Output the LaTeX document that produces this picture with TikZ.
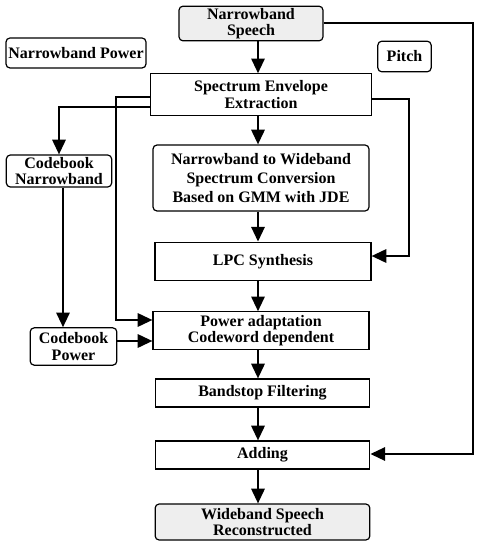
\documentclass[tikz,border=0pt]{standalone}
\usepackage{fontspec}
\setmainfont{Liberation Serif}
\usetikzlibrary{arrows.meta}
\begin{document}
\begin{tikzpicture}[x=0.75pt,y=-0.75pt,
  box/.style={draw=black,line width=0.9pt,fill=white,inner sep=0pt,align=center,
    font=\fontsize{12}{12.5}\selectfont\bfseries},
  rbox/.style={box,rounded corners=3pt},
  gbox/.style={rbox,fill=gray!13},
  arr/.style={line width=1.5pt,-{Triangle[length=11pt,width=10pt]}},
  ln/.style={line width=1.5pt}]
\useasboundingbox (0,0) rectangle (482,545);
% nodes
\node[gbox,minimum width=108pt,minimum height=26pt] (NS) at (251,23.5) {Narrowband\\Speech};
\node[rbox,minimum width=105pt,minimum height=22.5pt] (NP) at (76,53) {Narrowband Power};
\node[rbox,minimum width=40pt,minimum height=23pt] (PI) at (404.5,56.5) {Pitch};
\node[box,minimum width=166pt,minimum height=31pt] (SEE) at (261,94.5) {Spectrum Envelope\\Extraction};
\node[rbox,minimum width=79pt,minimum height=24pt] (CN) at (59,171) {Codebook\\Narrowband};
\node[rbox,minimum width=162pt,minimum height=49.5pt,font=\fontsize{12}{14}\selectfont\bfseries] (NW) at (261,178) {Narrowband to Wideband\\Spectrum Conversion\\Based on GMM with JDE};
\node[box,minimum width=162pt,minimum height=29pt] (LPC) at (263,261.5) {LPC Synthesis};
\node[box,minimum width=162pt,minimum height=28pt] (PA) at (261,330.5) {Power adaptation\\Codeword dependent};
\node[rbox,minimum width=65pt,minimum height=28pt] (CP) at (73.5,346.5) {Codebook\\Power};
\node[box,minimum width=161pt,minimum height=21pt] (BF) at (262.5,393) {Bandstop Filtering};
\node[box,minimum width=161pt,minimum height=21pt] (AD) at (262.5,455) {Adding};
\node[gbox,minimum width=161pt,minimum height=27pt] (WS) at (262.5,522) {Wideband Speech\\Reconstructed};
% helper coordinates
\coordinate (col) at (258,0);
\coordinate (xR) at (473,0);
\coordinate (xP) at (409,0);
\coordinate (xA) at (116,0);
\coordinate (xB) at (63,0);
\coordinate (yR) at (0,99);
\coordinate (yL1) at (0,97);
\coordinate (yL2) at (0,107);
\coordinate (yLPC) at (0,256);
\coordinate (yPA) at (0,320);
\coordinate (yCP) at (0,341);
\coordinate (yAD) at (0,454);
% main column
\draw[arr] (NS.south -| col) -- (SEE.north -| col);
\draw[arr] (SEE.south -| col) -- (NW.north -| col);
\draw[arr] (NW.south -| col) -- (LPC.north -| col);
\draw[arr] (LPC.south -| col) -- (PA.north -| col);
\draw[arr] (PA.south -| col) -- (BF.north -| col);
\draw[arr] (BF.south -| col) -- (AD.north -| col);
\draw[arr] (AD.south -| col) -- (WS.north -| col);
% side connectors
\draw[arr] (NS.east) -| (xR |- yAD) -- (AD.east |- yAD);
\draw[arr] (SEE.east |- yR) -| (xP |- yLPC) -- (LPC.east |- yLPC);
\draw[arr] (SEE.west |- yL1) -| (xA |- yPA) -- (PA.west |- yPA);
\draw[arr] (SEE.west |- yL2) -| (CN.north);
\draw[arr] (CN.south -| xB) -- (CP.north -| xB);
\draw[arr] (CP.east |- yCP) -- (PA.west |- yCP);
\end{tikzpicture}
\end{document}
